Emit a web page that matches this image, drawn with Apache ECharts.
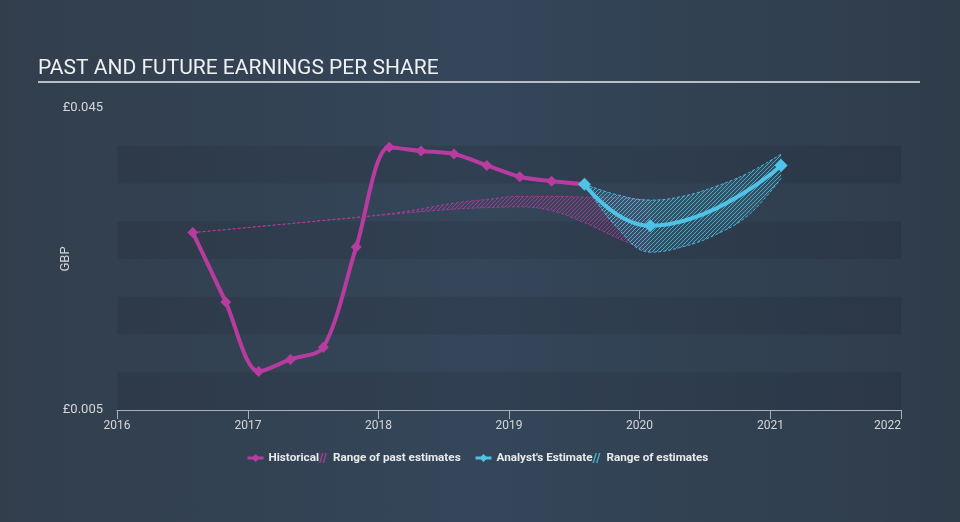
<!DOCTYPE html>
<html>
<head>
<meta charset="utf-8">
<script src="https://cdn.jsdelivr.net/npm/echarts@6/dist/echarts.min.js"></script>
<style>
html,body{margin:0;padding:0;}
#c{width:960px;height:522px;background:linear-gradient(90deg,#323e4c 0%,#34465a 50%,#2f3c4a 100%);}
</style>
</head>
<body>
<div id="c"></div>
<script>
// ---- data ----
const histDates = ['2016-07-31','2016-10-31','2017-01-31','2017-04-30','2017-07-31','2017-10-31','2018-01-31','2018-04-30','2018-07-31','2018-10-31','2019-01-31','2019-04-30','2019-07-31'];
const histEPS   = [0.0285, 0.0193, 0.0101, 0.0117, 0.0133, 0.0266, 0.0398, 0.0393, 0.0389, 0.0374, 0.0359, 0.0353, 0.0349];

const estDates = ['2019-07-31','2020-01-31','2021-01-31'];
const estEPS   = [0.0349, 0.0294, 0.0374];

const pastRangeDates = ['2016-07-31','2017-01-31','2017-07-31','2018-01-31','2018-07-31','2018-10-31','2019-01-31','2019-04-30','2019-07-31','2019-10-31','2020-01-31'];
const pastHigh = [0.0285, 0.0293, 0.0301, 0.0310, 0.0324, 0.0329, 0.0333, 0.0333, 0.0332, 0.0331, 0.0328];
const pastLow  = [0.0285, 0.0293, 0.0301, 0.0309, 0.0316, 0.0318, 0.0319, 0.0314, 0.0298, 0.0278, 0.0259];

const estRangeDates = ['2019-07-31','2019-10-31','2020-01-31','2020-04-30','2020-07-31','2020-10-31','2021-01-31'];
const estHigh = [0.0349, 0.0335, 0.0328, 0.0333, 0.0346, 0.0364, 0.0389];
const estLow  = [0.0349, 0.0291, 0.0259, 0.0266, 0.0282, 0.0308, 0.0357];

const xYears = ['2016-01-01', '2022-01-01'];
const yLabelValues = [0.005, 0.045];

// ---- styling helpers ----
const PINK = '#b83c9f';
const BLUE = '#4fc3e6';
function hatch(color, bg) {
  const c = document.createElement('canvas');
  c.width = 4; c.height = 4;
  const g = c.getContext('2d');
  if (bg) { g.fillStyle = bg; g.fillRect(0, 0, 4, 4); }
  g.strokeStyle = color; g.lineWidth = 1;
  g.beginPath();
  g.moveTo(0, 4); g.lineTo(4, 0);
  g.moveTo(-1, 1); g.lineTo(1, -1);
  g.moveTo(3, 5); g.lineTo(5, 3);
  g.stroke();
  return c;
}
const zip = (a, b) => a.map((d, i) => [d, b[i]]);
const diff = (h, l) => h.map((v, i) => +(v - l[i]).toFixed(6));
const hatchIcon = 'path://M0,10 L0,10 Z M6,10 L9,0 L10.5,0 L7.5,10 Z M9.5,10 L12.5,0 L14,0 L11,10 Z';
const YEAR = 365 * 24 * 3600 * 1000;
const legendText = {color: '#e8eaec', fontSize: 11.7, fontWeight: 'bold', fontFamily: 'Roboto'};

const chart = echarts.init(document.getElementById('c'), null, {renderer: 'canvas'});
chart.setOption({
  animation: false,
  backgroundColor: 'transparent',
  textStyle: {fontFamily: 'Roboto'},
  grid: {left: 117, right: 59, top: 108, bottom: 112},
  graphic: [
    {type: 'text', left: 38, top: 58, style: {text: 'PAST AND FUTURE EARNINGS PER SHARE', fill: '#eef0f2', font: '21px Roboto'}},
    {type: 'line', shape: {x1: 38, y1: 82, x2: 920, y2: 82}, style: {stroke: '#b8bec6', lineWidth: 2}}
  ],
  legend: [
    {left: 246, top: 452, padding: 0, itemGap: -6, itemWidth: 16, itemHeight: 10, textStyle: legendText,
     lineStyle: {width: 3},
     data: ['Historical', {name: 'Range of past estimates', icon: hatchIcon, itemStyle: {color: 'rgba(184,60,159,0.8)'}}]},
    {left: 474, top: 452, padding: 0, itemGap: -6, itemWidth: 16, itemHeight: 10, textStyle: legendText,
     lineStyle: {width: 3},
     data: ["Analyst's Estimate", {name: 'Range of estimates', icon: hatchIcon, itemStyle: {color: 'rgba(79,195,230,0.8)'}}]}
  ],
  xAxis: {
    type: 'time', min: xYears[0], max: xYears[1],
    minInterval: YEAR, maxInterval: YEAR + 24 * 3600 * 1000, splitNumber: 6,
    axisLine: {lineStyle: {color: '#a9b1bb', width: 1}},
    axisTick: {show: true, length: 9, lineStyle: {color: '#a9b1bb'}},
    axisLabel: {color: '#d4d7da', fontSize: 12, margin: 10, showMinLabel: true, showMaxLabel: true,
      alignMaxLabel: 'right',
      formatter: v => String(new Date(v).getFullYear())},
    splitLine: {show: false}
  },
  yAxis: {
    type: 'value', min: 0.005, max: 0.045, interval: 0.005,
    name: 'GBP', nameLocation: 'middle', nameGap: 45, nameMoveOverlap: false,
    nameTextStyle: {color: '#d4d7da', fontSize: 13},
    axisLine: {show: false}, axisTick: {show: false}, splitLine: {show: false},
    splitArea: {show: true, areaStyle: {color: ['rgba(25,30,40,0.15)', 'rgba(0,0,0,0)']}},
    axisLabel: {color: '#d4d7da', fontSize: 13, margin: 14,
      formatter: v => yLabelValues.some(t => Math.abs(t - v) < 1e-9) ? '£' + v.toFixed(3) : ''}
  },
  series: [
    {name: 'pastLowBase', type: 'line', stack: 'past', data: zip(pastRangeDates, pastLow),
     smooth: 0.4, symbol: 'none', silent: true, z: 1,
     lineStyle: {color: 'rgba(184,60,159,0.75)', width: 1, type: [3, 2]}},
    {name: 'Range of past estimates', type: 'line', stack: 'past', data: zip(pastRangeDates, diff(pastHigh, pastLow)),
     smooth: 0.4, symbol: 'none', silent: true, z: 1,
     itemStyle: {color: PINK},
     lineStyle: {color: 'rgba(184,60,159,0.75)', width: 1, type: [3, 2]},
     areaStyle: {color: {image: hatch('rgba(184,60,159,0.75)', 'rgba(184,60,159,0.06)'), repeat: 'repeat'}, opacity: 1}},
    {name: 'estLowBase', type: 'line', stack: 'est', data: zip(estRangeDates, estLow),
     smooth: 0.4, symbol: 'none', silent: true, z: 2,
     lineStyle: {color: 'rgba(79,195,230,0.85)', width: 1, type: [3, 2]}},
    {name: 'Range of estimates', type: 'line', stack: 'est', data: zip(estRangeDates, diff(estHigh, estLow)),
     smooth: 0.4, symbol: 'none', silent: true, z: 2,
     itemStyle: {color: BLUE},
     lineStyle: {color: 'rgba(79,195,230,0.85)', width: 1, type: [3, 2]},
     areaStyle: {color: {image: hatch('rgba(79,195,230,0.8)', 'rgba(79,195,230,0.12)'), repeat: 'repeat'}, opacity: 1}},
    {name: 'Historical', type: 'line', data: zip(histDates, histEPS),
     smooth: 0.3, symbol: 'diamond', symbolSize: [11, 11], z: 5,
     itemStyle: {color: PINK}, lineStyle: {color: PINK, width: 4}},
    {name: "Analyst's Estimate", type: 'line', data: zip(estDates, estEPS),
     smooth: 0.5, symbol: 'diamond', symbolSize: [13, 13], z: 6,
     itemStyle: {color: BLUE}, lineStyle: {color: BLUE, width: 4}}
  ]
});
</script>
</body>
</html>
